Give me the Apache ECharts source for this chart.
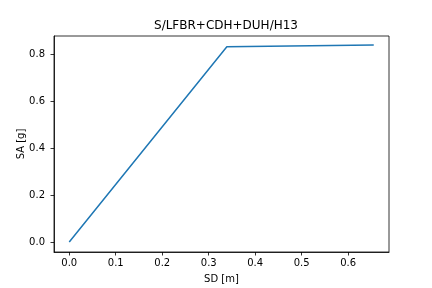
<!DOCTYPE html>
<html><head><meta charset="utf-8">
<script src="https://cdn.jsdelivr.net/npm/echarts@6/dist/echarts.min.js"></script>
<style>html,body{margin:0;padding:0;background:#fff}#c{width:432px;height:288px}</style>
</head><body><div id="c"></div>
<script>
const sd = [0, 0.339, 0.655];
const sa = [0, 0.831, 0.838];
const xTicks = [0, 0.1, 0.2, 0.3, 0.4, 0.5, 0.6];
const yTicks = [0, 0.2, 0.4, 0.6, 0.8];
const titleText = 'S/LFBR+CDH+DUH/H13';

const font = 'DejaVu Sans';
const chart = echarts.init(document.getElementById('c'), null, {renderer: 'canvas'});
chart.setOption({
  animation: false,
  title: {text: titleText, left: 221, top: 15, textAlign: 'center',
    textStyle: {fontFamily: font, fontSize: 12, fontWeight: 'normal', color: '#000'}},
  grid: {left: 54, right: 43, top: 36, bottom: 36, containLabel: false, outerBoundsMode: 'none',
    show: true, borderColor: '#000', borderWidth: 0.8, backgroundColor: 'transparent'},
  xAxis: {type: 'value', min: -0.0328, max: 0.6878,
    name: 'SD [m]', nameLocation: 'middle', nameGap: 22,
    nameTextStyle: {fontFamily: font, fontSize: 10, color: '#000'},
    axisLine: {show: true, onZero: false, lineStyle: {color: '#000', width: 0.8}},
    axisTick: {show: true, length: 3.5, inside: false, customValues: xTicks, lineStyle: {color: '#000', width: 0.8}},
    axisLabel: {customValues: xTicks, fontFamily: font, fontSize: 10, color: '#000', margin: 6, formatter: v => v.toFixed(1)},
    splitLine: {show: false}},
  yAxis: {type: 'value', min: -0.0425, max: 0.8766,
    name: 'SA [g]', nameLocation: 'middle', nameGap: 28, nameRotate: 90, nameMoveOverlap: false,
    nameTextStyle: {fontFamily: font, fontSize: 10, color: '#000'},
    axisLine: {show: true, onZero: false, lineStyle: {color: '#000', width: 0.8}},
    axisTick: {show: true, length: 3.5, inside: false, customValues: yTicks, lineStyle: {color: '#000', width: 0.8}},
    axisLabel: {customValues: yTicks, fontFamily: font, fontSize: 10, color: '#000', margin: 9, formatter: v => v.toFixed(1)},
    splitLine: {show: false}},
  series: [{type: 'line', data: sd.map((x, i) => [x, sa[i]]), showSymbol: false, symbol: 'none',
    lineStyle: {color: '#1f77b4', width: 1.5}}]
});
</script></body></html>
